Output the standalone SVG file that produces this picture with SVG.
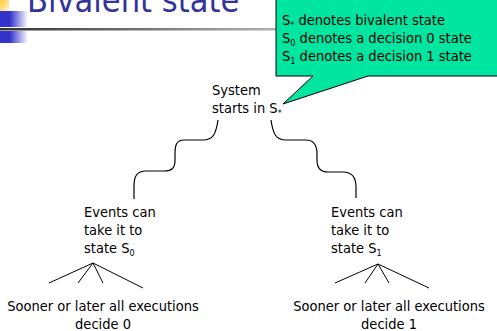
<svg xmlns="http://www.w3.org/2000/svg" width="497" height="331" viewBox="0 0 497 331">
<defs>
<linearGradient id="blueG" x1="0" y1="0" x2="1" y2="0"><stop offset="0" stop-color="#3333cc"/><stop offset="0.35" stop-color="#3333cc"/><stop offset="1" stop-color="#ffffff"/></linearGradient>
<linearGradient id="yelG" x1="0" y1="0" x2="1" y2="1"><stop offset="0" stop-color="#ffcc33"/><stop offset="1" stop-color="#fff4cc"/></linearGradient>
<linearGradient id="lineG" x1="0" y1="0" x2="1" y2="0"><stop offset="0" stop-color="#333333"/><stop offset="1" stop-color="#cccccc"/></linearGradient>
</defs>
<style>
.t{font-family:"DejaVu Sans Condensed","DejaVu Sans",sans-serif;font-stretch:condensed;font-size:14.5px;fill:#000}
.s{font-size:9px}
.c{fill:none;stroke:#000;stroke-width:1.2}
.f{fill:none;stroke:#000;stroke-width:1}
</style>
<g id="header">
<rect x="0" y="0" width="9" height="11" fill="url(#yelG)"/>
<rect x="0" y="11" width="28" height="16" fill="url(#blueG)"/>
<rect x="0" y="31" width="28" height="12" fill="url(#blueG)"/>
<rect x="0" y="28" width="330" height="2.5" fill="url(#lineG)"/>
<text x="27" y="12" style="font-family:'DejaVu Sans Condensed','DejaVu Sans',sans-serif;font-stretch:condensed;font-size:34px;fill:#333399">Bivalent state</text>
</g>
<g id="callout">
<path d="M276,-2 H500 V76 H368 L283,104 L313,76 H276 Z" fill="#00e6a0" stroke="#000" stroke-width="1"/>
<text class="t" x="282" y="25">S<tspan class="s" dy="3">*</tspan><tspan dy="-3"> denotes bivalent state</tspan></text>
<text class="t" x="282" y="43">S<tspan class="s" dy="3">0</tspan><tspan dy="-3"> denotes a decision 0 state</tspan></text>
<text class="t" x="282" y="61">S<tspan class="s" dy="3">1</tspan><tspan dy="-3"> denotes a decision 1 state</tspan></text>
</g>
<g id="system">
<text class="t" x="212" y="95">System</text>
<text class="t" x="212" y="113">starts in S<tspan class="s" dy="3">*</tspan></text>
</g>
<g id="events0">
<text class="t" x="84" y="217">Events can</text>
<text class="t" x="84" y="235">take it to</text>
<text class="t" x="84" y="253">state S<tspan class="s" dy="3">0</tspan></text>
</g>
<g id="events1">
<text class="t" x="331" y="217">Events can</text>
<text class="t" x="331" y="235">take it to</text>
<text class="t" x="331" y="253">state S<tspan class="s" dy="3">1</tspan></text>
</g>
<g id="decide0">
<text class="t" x="103" y="311" text-anchor="middle">Sooner or later all executions</text>
<text class="t" x="103" y="329" text-anchor="middle">decide 0</text>
</g>
<g id="decide1">
<text class="t" x="389" y="311" text-anchor="middle">Sooner or later all executions</text>
<text class="t" x="389" y="329" text-anchor="middle">decide 1</text>
</g>
<g id="connectors">
<path class="c" d="M218,120 C216,134 213,140 203,140 L184,140 C176,140 175,146 175,154 L175,160 C175,168 172,171 164,171 L146,171 C137,171 134,176 134,186 L134,199"/>
<path class="c" d="M271,120 C273,134 276,140 286,140 L306,140 C314,140 317,146 317,154 L317,160 C317,168 320,172 328,172 L343,172 C352,172 356,177 356,187 L356,198"/>
<path class="f" d="M93,263 L49,283 M93,263 L78,283 M93,263 L103,283 M93,263 L143,288"/>
<path class="f" d="M378,264 L335,283 M378,264 L365,283 M378,264 L389,283 M378,264 L429,288"/>
</g>
</svg>
